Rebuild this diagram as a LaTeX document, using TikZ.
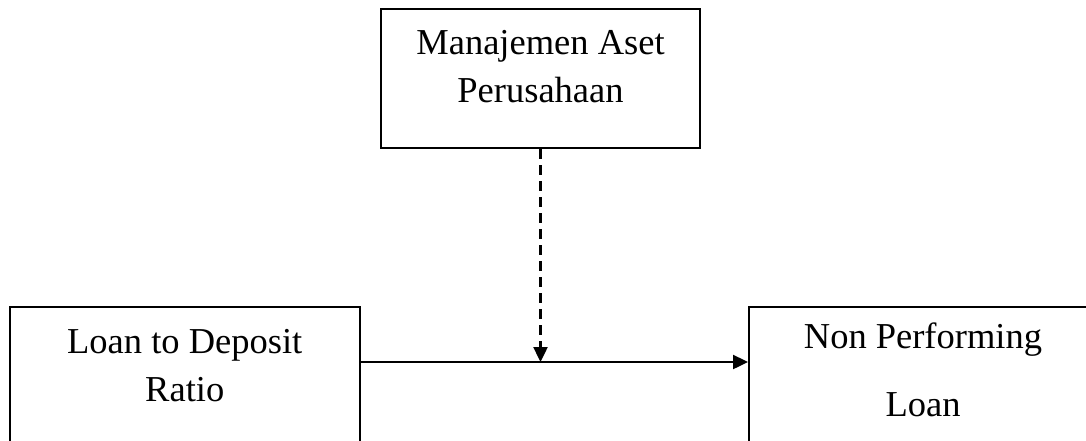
\documentclass[tikz,border=0pt]{standalone}
\usepackage{fontspec}
\setmainfont{Liberation Serif}
\usetikzlibrary{positioning,arrows.meta}
\tikzstyle{block} = [rectangle, draw=black, line width=1pt, inner sep=0pt, align=flush center, text width=174.75pt, font=\fontsize{18.25}{24}\selectfont]
\tikzstyle{arrow} = [line width=1.2pt,->,>={Triangle[length=7.5pt,width=7pt]}]

\begin{document}
\begin{tikzpicture}
\useasboundingbox (0,0) rectangle (543pt,-220pt);
\clip (0,0) rectangle (543pt,-220pt);
\node (manajemen) [block, text width=159.5pt, text height=22.5pt, text depth=47pt, anchor=north] at (270.25pt,-4pt) {Manajemen Aset\\Perusahaan};
\node (ldr) [block, text height=23pt, text depth=55pt, below left=78.5pt and 9.75pt of manajemen] {Loan to Deposit\\Ratio};
\node (npl) [block, text width=174pt, text height=20.5pt, text depth=57.5pt, below right=78.5pt and 23.5pt of manajemen] {Non Performing\\[10pt]Loan};
\coordinate (meet) at (270.25pt,-181pt);

\draw [arrow, dash pattern=on 5pt off 3pt] (manajemen) -- (meet);
\draw [arrow] (ldr.east |- meet) -- (npl.west |- meet);
\end{tikzpicture}
\end{document}
